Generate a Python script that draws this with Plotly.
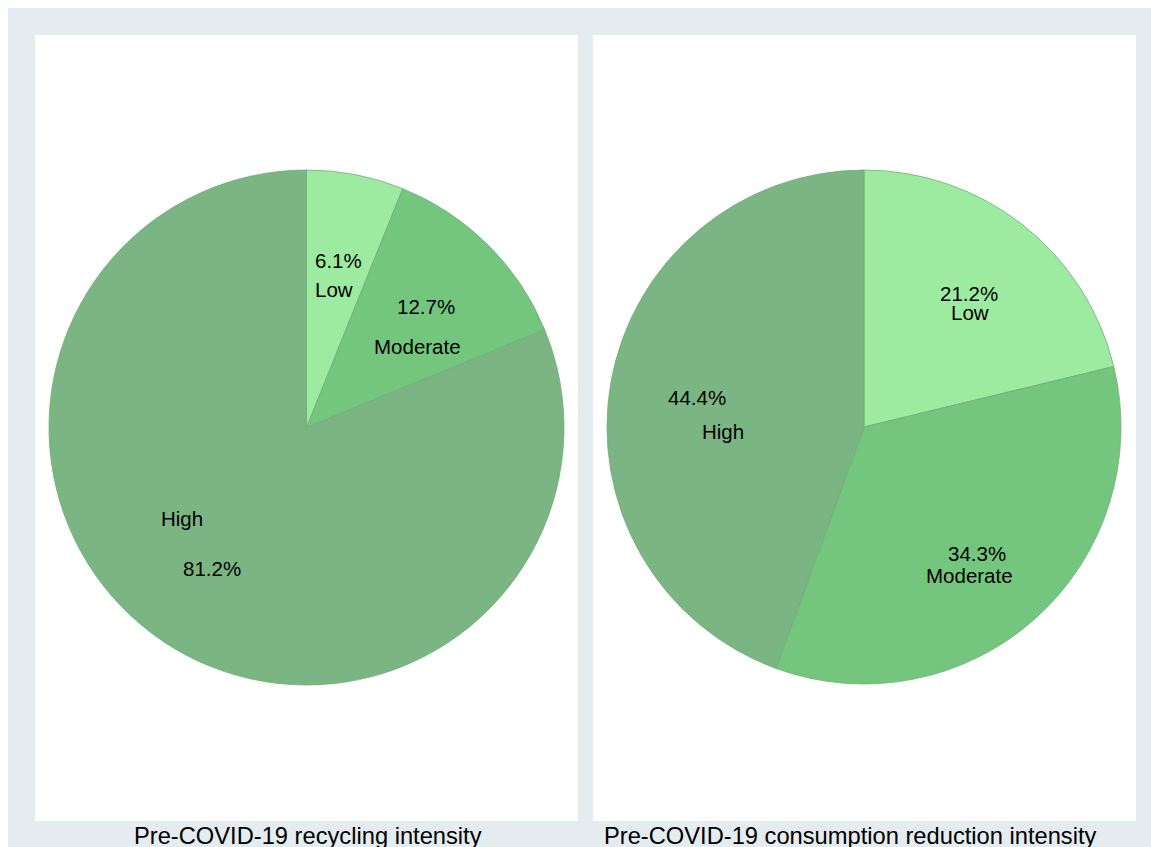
import math
import plotly.graph_objects as go

# Category shares (%) for the two pre-COVID-19 behaviour measures
categories = ["Low", "Moderate", "High"]
recycling_pct = [6.1, 12.7, 81.2]
reduction_pct = [21.2, 34.3, 44.4]
panel_titles = ["Pre-COVID-19 recycling intensity",
                "Pre-COVID-19 consumption reduction intensity"]

W, H = 1151, 847
slice_colors = ["#9deba0", "#74c67f", "#7bb584"]
FONT = "Liberation Sans, Arial, sans-serif"

# pie geometry in pixels (centre x, centre y from top, radius)
pies = [
    dict(values=recycling_pct, cx=306.5, cy=427.5, r=257.5,
         name_shift=[(-5, 29), (-9, 40), (-30, -50)]),
    dict(values=reduction_pct, cx=864.0, cy=427.0, r=257.0,
         name_shift=[(1, 19), (-8, 22), (26, 34)]),
]
panels = [(35, 578), (593, 1136)]
title_x = [308, 850]
panel_top, panel_bottom = 35, 821

fig = go.Figure()
annotations = []
shapes = [
    dict(type="rect", xref="paper", yref="paper", x0=8 / W, x1=1, y0=0, y1=1 - 8 / H,
         fillcolor="#e4ecef", line=dict(width=0), layer="below"),
]
for (x0, x1) in panels:
    shapes.append(dict(type="rect", xref="paper", yref="paper",
                       x0=x0 / W, x1=x1 / W, y0=1 - panel_bottom / H, y1=1 - panel_top / H,
                       fillcolor="white", line=dict(width=0), layer="below"))


def label(x, y, text, size, dx=0, dy=0):
    return dict(x=x, y=y, xref="paper", yref="paper", showarrow=False,
                xanchor="center", yanchor="middle", xshift=dx, yshift=-dy,
                text=text, font=dict(family=FONT, size=size, color="#000"))


for p, title, tx in zip(pies, panel_titles, title_x):
    cx, cy, r = p["cx"], p["cy"], p["r"]
    cy_up = H - cy
    fig.add_trace(go.Pie(
        labels=categories, values=p["values"], sort=False, direction="clockwise",
        rotation=0, textinfo="none", hoverinfo="label+percent", showlegend=False,
        marker=dict(colors=slice_colors, line=dict(color="#6fae79", width=0.8)),
        domain=dict(x=[(cx - r) / W, (cx + r) / W], y=[(cy_up - r) / H, (cy_up + r) / H]),
    ))
    total = sum(p["values"])
    cum = 0.0
    for cat, v, (dx, dy) in zip(categories, p["values"], p["name_shift"]):
        mid = (cum + v / 2) / total * 2 * math.pi
        cum += v
        rr = 0.66 * r
        ax = (cx + rr * math.sin(mid)) / W
        ay = (cy_up + rr * math.cos(mid)) / H
        annotations.append(label(ax, ay, f"{v:.1f}%", 20.5))
        annotations.append(label(ax, ay, cat, 20.5, dx, dy))
    annotations.append(label(tx / W, 1 - 836 / H, title, 23.7))

fig.update_layout(
    width=W, height=H, margin=dict(l=0, r=0, t=0, b=0),
    paper_bgcolor="white", plot_bgcolor="white",
    shapes=shapes, annotations=annotations,
)
fig.write_html("out.html")
